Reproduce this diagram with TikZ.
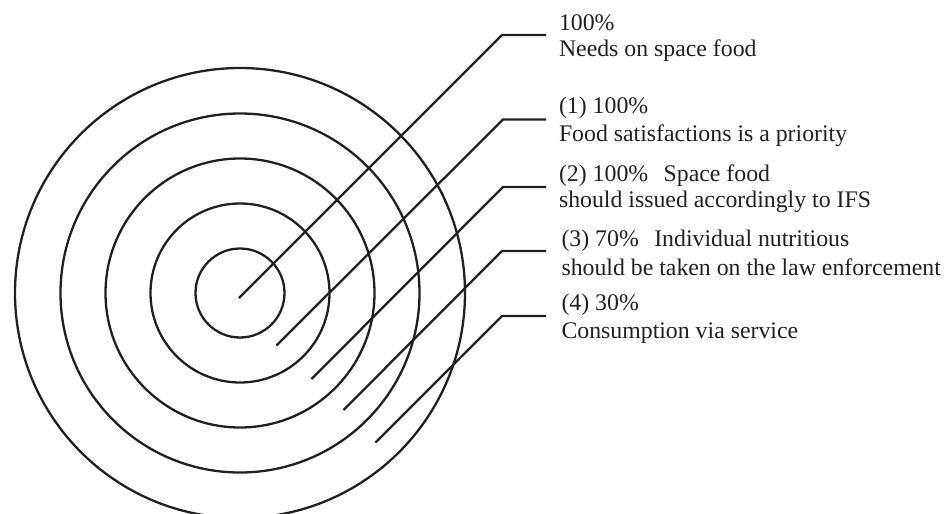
\documentclass[tikz,border=0pt]{standalone}
\usepackage{fontspec}
\setmainfont{Liberation Serif}
\definecolor{ink}{HTML}{231F20}
\begin{document}
\begin{tikzpicture}[x=1pt,y=-1pt,
  ring/.style={draw=ink,line width=2.3pt},
  leader/.style={draw=ink,line width=2.3pt,line join=miter},
  lbl/.style={anchor=base west,inner sep=0pt,outer sep=0pt,text=ink,
    font=\fontsize{23.8}{26}\selectfont}]
\useasboundingbox (0,0) rectangle (946,514);
\clip (0,0) rectangle (946,514);
\coordinate (c) at (240,293);
\foreach \r in {44.5,89.5,134.5,179.5,225}{
  \draw[ring] (c) circle[radius=\r pt];
}
% leader coordinates
\coordinate (s0) at (239,298);   \coordinate (k0) at (502,35);    \coordinate (e0) at (546,35);
\coordinate (s1) at (276.5,345.5); \coordinate (k1) at (503,119.5); \coordinate (e1) at (546,119.5);
\coordinate (s2) at (311.5,379); \coordinate (k2) at (503,187);   \coordinate (e2) at (546,187);
\coordinate (s3) at (343.5,410); \coordinate (k3) at (502,251);   \coordinate (e3) at (546,251);
\coordinate (s4) at (375.5,442.5); \coordinate (k4) at (502,316);  \coordinate (e4) at (546,316);
\foreach \i in {0,...,4}{
  \draw[leader] (s\i) -- (k\i) -- (e\i);
}
% labels
\node[lbl] (t0a) at (559,30.7) {100\%};
\node[lbl] (t0b) at (559,56.7) {Needs on space food};
\node[lbl] (t1a) at (559,113.3) {(1) 100\%};
\node[lbl] (t1b) at (559,141.7) {Food satisfactions is a priority};
\node[lbl] (t2a) at (559,181.7) {(2) 100\%\hspace{9.5pt} Space food};
\node[lbl] (t2b) at (559,207.7) {should issued accordingly to IFS};
\node[lbl] (t3a) at (561.5,246.7) {(3) 70\%\hspace{9.5pt} Individual nutritious};
\node[lbl] (t3b) at (561.5,275) {should be taken on the law enforcement};
\node[lbl] (t4a) at (561.5,310) {(4) 30\%};
\node[lbl] (t4b) at (561.5,338.3) {Consumption via service};
\end{tikzpicture}
\end{document}
